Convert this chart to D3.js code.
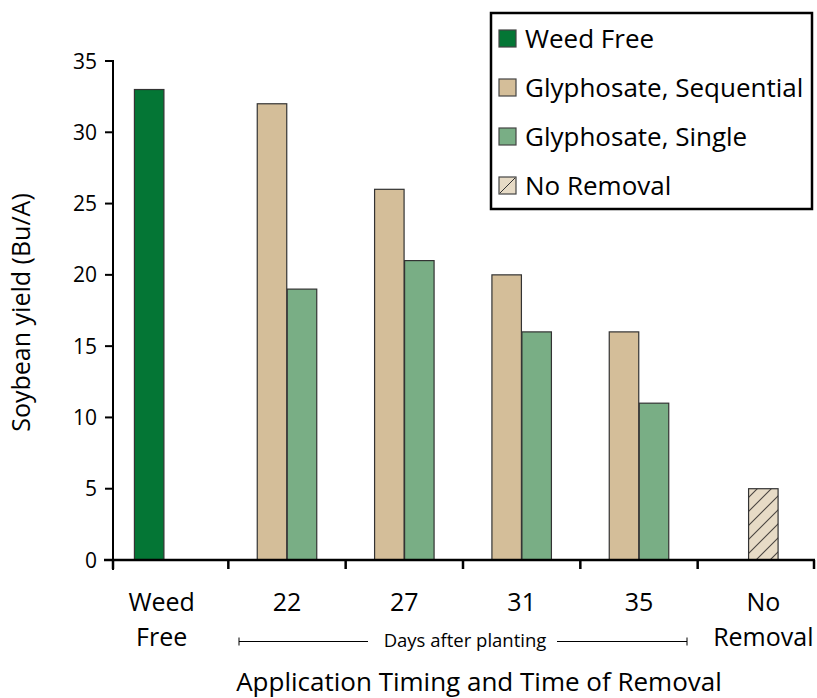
<!DOCTYPE html>
<html>
<head>
<meta charset="utf-8">
<script src="https://cdn.jsdelivr.net/npm/d3@7"></script>
<style>
  body { margin: 0; background: #fff; }
  svg { font-family: "Open Sans", "Noto Sans", sans-serif; }
</style>
</head>
<body>
<div id="chart"></div>
<script>
// DATA ------------------------------------------------------------------
const categories   = ["Weed Free", "22", "27", "31", "35", "No Removal"]
const categoryText = [["Weed", "Free"], ["22"], ["27"], ["31"], ["35"], ["No", "Removal"]]
const seriesNames  = ["Weed Free", "Glyphosate, Sequential", "Glyphosate, Single", "No Removal"]
const weedFree     = [33, null, null, null, null, null]
const sequential   = [null, 32, 26, 20, 16, null]
const single       = [null, 19, 21, 16, 11, null]
const noRemoval    = [null, null, null, null, null, 5]
const yTicks       = [0, 5, 10, 15, 20, 25, 30, 35]

// LAYOUT ----------------------------------------------------------------
const width = 817, height = 698
const margin = {left: 113, right: 2, top: 61, bottom: 138}
const barWidth = 29.5
const colors = ["#047635", "#d4be99", "#79ae85", "#e7dbc6"]
// where each series sits inside its band (offset of bar centre from band centre)
const seriesShift = [-20.5, -15, 15, 7]
const labelShift  = {"Weed Free": -8, "No Removal": 7}

const svg = d3.select("#chart").append("svg")
  .attr("width", width)
  .attr("height", height)

const defs = svg.append("defs")
defs.append("pattern")
  .attr("id", "hatch")
  .attr("patternUnits", "userSpaceOnUse")
  .attr("width", 14).attr("height", 14)
  .call(p => {
    p.append("rect").attr("width", 14).attr("height", 14).attr("fill", colors[3])
    p.append("path").attr("d", "M-2,16 L16,-2 M-4,4 L4,-4 M10,18 L18,10")
      .attr("stroke", "#4a4540").attr("stroke-width", 1.1)
  })

const x = d3.scaleBand()
  .domain(categories)
  .range([111, 815])

const y = d3.scaleLinear()
  .domain([0, 35])
  .range([560, margin.top])

// bars
const seriesValues = [weedFree, sequential, single, noRemoval]
const bars = []
seriesValues.forEach((vals, si) => {
  vals.forEach((v, ci) => {
    if (v !== null) bars.push({series: si, cat: categories[ci], value: v})
  })
})

svg.append("g").selectAll("rect")
  .data(bars)
  .join("rect")
  .attr("x", d => x(d.cat) + x.bandwidth() / 2 + seriesShift[d.series] - barWidth / 2)
  .attr("y", d => y(d.value))
  .attr("width", barWidth)
  .attr("height", d => y(0) - y(d.value))
  .attr("fill", d => d.series === 3 ? "url(#hatch)" : colors[d.series])
  .attr("stroke", "#333")
  .attr("stroke-width", 1.2)

// y axis
const yAxis = svg.append("g")
yAxis.append("line")
  .attr("x1", margin.left).attr("x2", margin.left)
  .attr("y1", y(35) - 1).attr("y2", y(0) + 10)
  .attr("stroke", "#000").attr("stroke-width", 2)
yAxis.selectAll(".ytick")
  .data(yTicks)
  .join("line")
  .attr("x1", margin.left - 8).attr("x2", margin.left)
  .attr("y1", d => y(d)).attr("y2", d => y(d))
  .attr("stroke", "#000").attr("stroke-width", 2)
yAxis.selectAll("text")
  .data(yTicks)
  .join("text")
  .attr("x", margin.left - 16)
  .attr("y", d => y(d))
  .attr("dy", "0.36em")
  .attr("text-anchor", "end")
  .attr("font-size", 21)
  .text(d => d)

svg.append("text")
  .attr("transform", `translate(30,${(y(0) + y(35)) / 2 + 2}) rotate(-90)`)
  .attr("text-anchor", "middle")
  .attr("font-size", 25)
  .text("Soybean yield (Bu/A)")

// x axis
const xAxis = svg.append("g")
xAxis.append("line")
  .attr("x1", margin.left - 9).attr("x2", 815)
  .attr("y1", y(0)).attr("y2", y(0))
  .attr("stroke", "#000").attr("stroke-width", 2.5)
const xTicks = categories.map(c => x(c) + x.bandwidth()).concat([margin.left])
xAxis.selectAll(".xtick")
  .data(xTicks)
  .join("line")
  .attr("x1", d => Math.min(d, 814)).attr("x2", d => Math.min(d, 814))
  .attr("y1", y(0)).attr("y2", y(0) + 9)
  .attr("stroke", "#000").attr("stroke-width", 2.5)

const catLabel = xAxis.selectAll(".cat")
  .data(categories)
  .join("text")
  .attr("text-anchor", "middle")
  .attr("font-size", 25)
  .attr("x", d => x(d) + x.bandwidth() / 2 + (labelShift[d] || 0))
catLabel.each(function(d, i) {
  d3.select(this).selectAll("tspan")
    .data(categoryText[i])
    .join("tspan")
    .attr("x", d3.select(this).attr("x"))
    .attr("y", (t, j) => 611 + j * 35)
    .text(t => t)
})

// "Days after planting" bracket
const bracket = svg.append("g")
const bx1 = 239, bx2 = 687, by = 641.5
bracket.append("line").attr("x1", bx1).attr("x2", 368).attr("y1", by).attr("y2", by)
bracket.append("line").attr("x1", 557).attr("x2", bx2).attr("y1", by).attr("y2", by)
bracket.append("line").attr("x1", bx1).attr("x2", bx1).attr("y1", by - 4).attr("y2", by + 4)
bracket.append("line").attr("x1", bx2).attr("x2", bx2).attr("y1", by - 4).attr("y2", by + 4)
bracket.selectAll("line").attr("stroke", "#000").attr("stroke-width", 1)
bracket.append("text")
  .attr("x", 465)
  .attr("y", 647)
  .attr("text-anchor", "middle")
  .attr("font-size", 18.5)
  .text("Days after planting")

svg.append("text")
  .attr("x", 479)
  .attr("y", 691)
  .attr("text-anchor", "middle")
  .attr("font-size", 26)
  .text("Application Timing and Time of Removal")

// legend
const legend = svg.append("g")
legend.append("rect")
  .attr("x", 491).attr("y", 13)
  .attr("width", 321).attr("height", 196)
  .attr("fill", "#fff")
  .attr("stroke", "#000").attr("stroke-width", 2.5)
const item = legend.selectAll(".item")
  .data(seriesNames)
  .join("g")
  .attr("transform", (d, i) => `translate(499,${38.5 + i * 49})`)
item.append("rect")
  .attr("x", 0).attr("y", -8.5)
  .attr("width", 17).attr("height", 17)
  .attr("fill", (d, i) => colors[i])
  .attr("stroke", "#444").attr("stroke-width", 1.2)
item.filter((d, i) => i === 3).append("line")
  .attr("x1", 1).attr("y1", 7.5).attr("x2", 16).attr("y2", -7.5)
  .attr("stroke", "#333").attr("stroke-width", 1)
item.append("text")
  .attr("x", 26)
  .attr("dy", "0.36em")
  .attr("font-size", 26)
  .text(d => d)
</script>
</body>
</html>
